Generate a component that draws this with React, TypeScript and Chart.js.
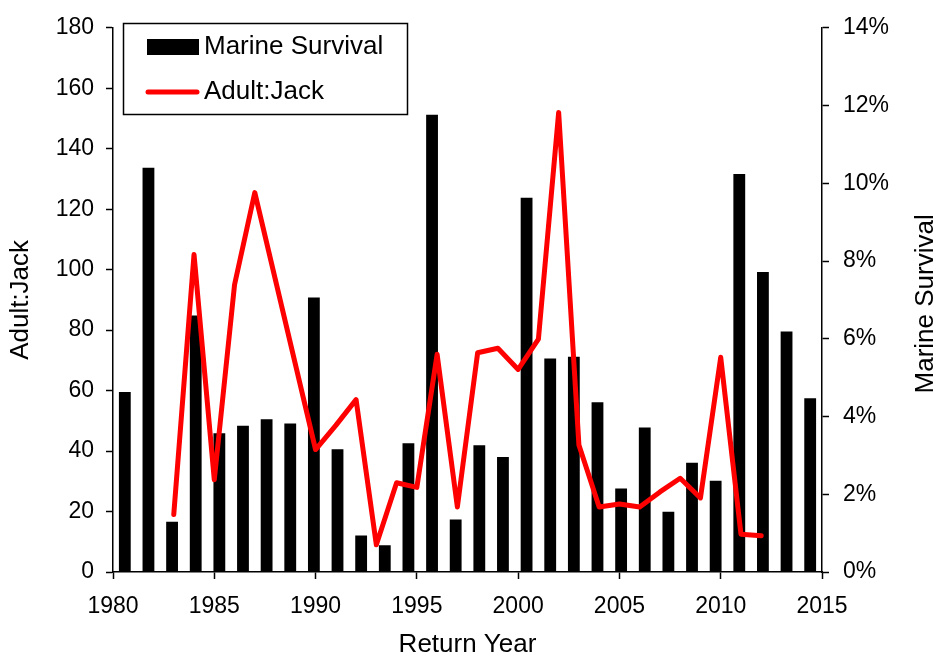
import React, { useEffect, useRef } from "react";
import { Chart, registerables } from "chart.js";

Chart.register(...registerables);

const FONT = "'Liberation Sans', Arial, Helvetica, sans-serif";

// Marine survival (%) per brood cohort, drawn as bars on a category axis
const survivalLabels = [
  "1981", "1982", "1983", "1984", "1985", "1986", "1987", "1988", "1989", "1990",
  "1991", "1992", "1993", "1994", "1995", "1996", "1997", "1998", "1999", "2000",
  "2001", "2002", "2003", "2004", "2005", "2006", "2007", "2008", "2009", "2010",
];
const marineSurvival = [
  4.63, 10.4, 1.29, 6.6, 3.57, 3.76, 3.93, 3.82, 7.06, 3.16,
  0.94, 0.69, 3.31, 11.76, 1.35, 3.26, 2.96, 9.63, 5.49, 5.54,
  4.37, 2.15, 3.72, 1.55, 2.81, 2.35, 10.24, 7.72, 6.19, 4.47,
];

// Adult:Jack ratio by return year (no ratio for 1988-1989)
const returnYears = [
  1983, 1984, 1985, 1986, 1987, 1988, 1989, 1990, 1991, 1992,
  1993, 1994, 1995, 1996, 1997, 1998, 1999, 2000, 2001, 2002,
  2003, 2004, 2005, 2006, 2007, 2008, 2009, 2010, 2011, 2012,
];
const adultJack: (number | null)[] = [
  19, 105, 30.5, 95, 125.5, null, null, 40.5, 48.5, 57,
  9, 29.5, 28, 72, 21.5, 72.5, 74, 67, 77, 152,
  42, 21.5, 22.5, 21.5, 26.5, 31, 24.5, 71, 12.5, 12,
];

const yearTicks = [1980, 1985, 1990, 1995, 2000, 2005, 2010, 2015];
const ratioTicks = [0, 20, 40, 60, 80, 100, 120, 140, 160, 180];
const percentTicks = [0, 2, 4, 6, 8, 10, 12, 14];

const xTitle = "Return Year";
const leftTitle = "Adult:Jack";
const rightTitle = "Marine Survival";

// Axis titles and the boxed legend
const decorations = {
  id: "decorations",
  afterDraw(chart: any) {
    const { ctx, chartArea: area } = chart;
    const midY = (area.top + area.bottom) / 2;
    ctx.save();
    ctx.fillStyle = "#000";
    ctx.font = `26px ${FONT}`;
    ctx.textAlign = "center";
    ctx.textBaseline = "middle";

    ctx.save();
    ctx.translate(21, midY);
    ctx.rotate(-Math.PI / 2);
    ctx.fillText(leftTitle, 0, 0);
    ctx.restore();

    ctx.save();
    ctx.translate(926, midY + 4);
    ctx.rotate(-Math.PI / 2);
    ctx.fillText(rightTitle, 0, 0);
    ctx.restore();

    ctx.fillText(xTitle, (area.left + area.right) / 2, 645);

    // legend
    const [barSet, lineSet] = chart.data.datasets;
    ctx.fillStyle = "#fff";
    ctx.fillRect(123.5, 23.5, 284, 91);
    ctx.strokeStyle = "#000";
    ctx.lineWidth = 1.5;
    ctx.strokeRect(123.5, 23.5, 284, 91);

    ctx.fillStyle = barSet.backgroundColor;
    ctx.fillRect(147, 39, 52, 16);

    ctx.strokeStyle = lineSet.borderColor;
    ctx.lineWidth = 5;
    ctx.lineCap = "round";
    ctx.beginPath();
    ctx.moveTo(148, 92);
    ctx.lineTo(197, 92);
    ctx.stroke();

    ctx.fillStyle = "#000";
    ctx.font = `26px ${FONT}`;
    ctx.textAlign = "left";
    ctx.fillText(barSet.label, 204, 47);
    ctx.fillText(lineSet.label, 204, 92);
    ctx.restore();
  },
};

export default function App() {
  const canvasRef = useRef<HTMLCanvasElement | null>(null);

  useEffect(() => {
    const canvas = canvasRef.current;
    if (!canvas) return;

    const tickFont = { family: FONT, size: 23 };
    const axisGrid = {
      display: true,
      drawOnChartArea: false,
      drawTicks: true,
      tickLength: 7,
      tickWidth: 1.5,
      color: "#000",
      offset: false,
    };
    const axisBorder = { display: true, color: "#000", width: 1.5 };

    const chart = new Chart(canvas, {
      type: "bar",
      data: {
        labels: survivalLabels,
        datasets: [
          {
            type: "bar",
            label: "Marine Survival",
            data: marineSurvival,
            backgroundColor: "#000000",
            borderWidth: 0,
            xAxisID: "x",
            yAxisID: "y1",
            grouped: false,
            barPercentage: 0.5,
            categoryPercentage: 1,
            order: 2,
          },
          {
            type: "line",
            label: "Adult:Jack",
            data: returnYears.map((yr, i) => ({ x: yr, y: adultJack[i] })),
            borderColor: "#ff0000",
            backgroundColor: "#ff0000",
            borderWidth: 5,
            borderJoinStyle: "round",
            borderCapStyle: "round",
            pointRadius: 0,
            tension: 0,
            spanGaps: true,
            xAxisID: "xl",
            yAxisID: "y",
            order: 1,
          },
        ] as any,
      },
      plugins: [decorations],
      options: {
        responsive: false,
        animation: false,
        layout: { padding: { top: 22, left: 0, right: 0, bottom: 0 } },
        plugins: {
          legend: { display: false },
          tooltip: { enabled: false },
        },
        scales: {
          x: {
            type: "category",
            display: false,
            offset: true,
          },
          xl: {
            type: "linear",
            position: "bottom",
            min: 1980,
            max: 2015,
            offset: false,
            afterBuildTicks: (scale: any) => {
              scale.ticks = yearTicks.map((v) => ({ value: v }));
            },
            afterFit: (scale: any) => {
              scale.height = 85;
            },
            ticks: {
              font: tickFont,
              color: "#000",
              padding: 14,
              maxRotation: 0,
              autoSkip: false,
              callback: (v: any) => String(v),
            },
            grid: axisGrid,
            border: axisBorder,
          },
          y: {
            type: "linear",
            position: "left",
            min: 0,
            max: 180,
            afterBuildTicks: (scale: any) => {
              scale.ticks = ratioTicks.map((v) => ({ value: v }));
            },
            afterFit: (scale: any) => {
              scale.width = 113;
            },
            ticks: {
              font: tickFont,
              color: "#000",
              padding: 12,
              callback: (v: any) => String(v),
            },
            grid: axisGrid,
            border: axisBorder,
          },
          y1: {
            type: "linear",
            position: "right",
            min: 0,
            max: 14,
            afterBuildTicks: (scale: any) => {
              scale.ticks = percentTicks.map((v) => ({ value: v }));
            },
            afterFit: (scale: any) => {
              scale.width = 114;
            },
            ticks: {
              font: tickFont,
              color: "#000",
              padding: 14,
              callback: (v: any) => `${v}%`,
            },
            grid: axisGrid,
            border: axisBorder,
          },
        },
      } as any,
    });

    return () => chart.destroy();
  }, []);

  return (
    <div style={{ position: "absolute", left: 0, top: 0, width: 936, height: 657, background: "#fff" }}>
      <canvas ref={canvasRef} width={936} height={657} style={{ display: "block" }} />
    </div>
  );
}
